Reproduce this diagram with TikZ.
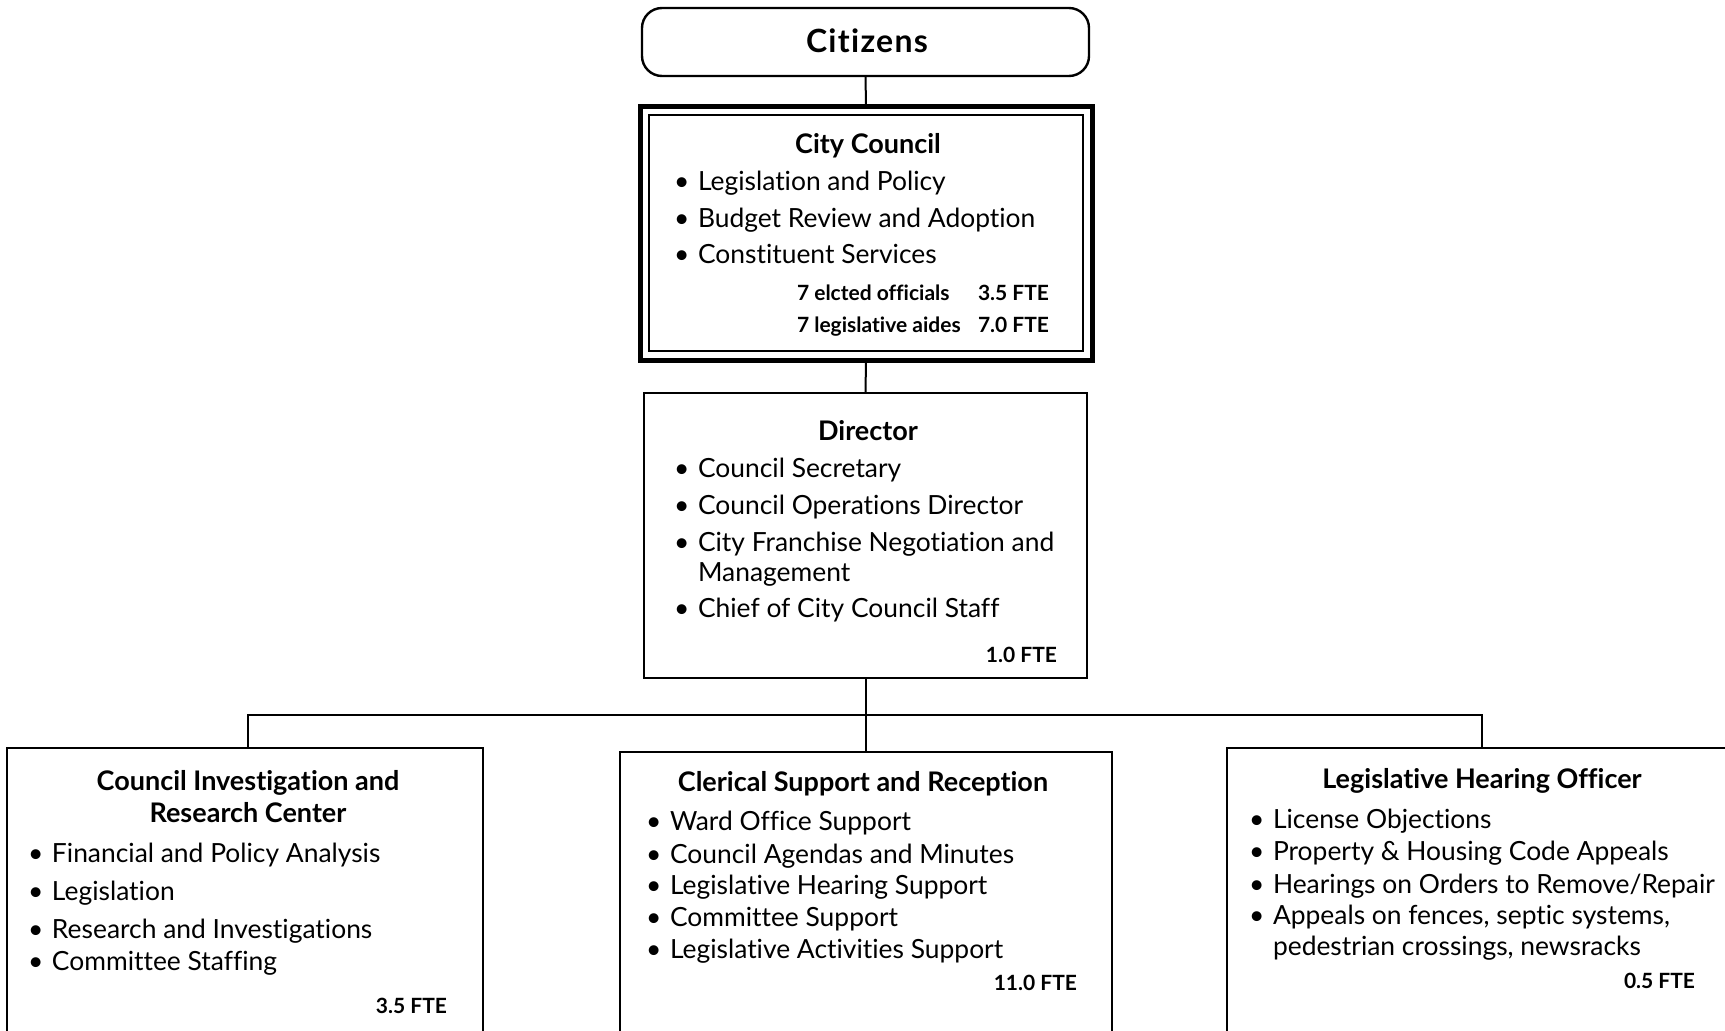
\documentclass[tikz,border=0pt]{standalone}
\usepackage{fontspec}
\setmainfont{Lato}[Ligatures=NoCommon]
% bulleted line: node name, start of the bullet, text
\newcommand\bitem[3]{\node[itemtext] (#1) at (#2) {\makebox[24pt][l]{\textbullet}#3};}
\begin{document}
\begin{tikzpicture}[x=1pt,y=-1pt,
  every node/.style={inner sep=0pt, outer sep=0pt},
  box/.style={draw, line width=2.4pt, rectangle, anchor=north west},
  conn/.style={line width=2pt},
  title/.style={font=\bfseries\fontsize{27}{32}\selectfont, anchor=base},
  itemtext/.style={font=\fontsize{26.4}{31}\selectfont, anchor=base west},
  plain/.style={font=\fontsize{26.4}{31}\selectfont, anchor=base west},
  fte/.style={font=\bfseries\fontsize{21}{25}\selectfont},
]
\useasboundingbox (0,0) rectangle (1725,1031);
\clip (0,0) rectangle (1725,1031);

% ---- boxes ----
\node[box, rounded corners=20pt, minimum width=447pt, minimum height=68pt] (cit) at (642,8) {};
\node[box, line width=5pt, minimum width=452pt, minimum height=254pt] (cc) at (640,106) {};
\node[box, line width=1.5pt, minimum width=434pt, minimum height=236pt] (ccin) at (649,115) {};
\node[box, minimum width=443pt, minimum height=285pt] (dir) at (644,393) {};
\node[box, minimum width=476pt, minimum height=360pt] (cir) at (7,748) {};
\node[box, minimum width=492pt, minimum height=360pt] (csr) at (620,752) {};
\node[box, minimum width=540pt, minimum height=360pt] (lho) at (1227,748) {};

% ---- connectors ----
\coordinate (barL) at (248,715);
\coordinate (barR) at (1482,715);
\draw[conn] (cit.south) -- (cc.north);
\draw[conn] (cc.south) -- (dir.north);
\draw[conn] (dir.south) -- (dir.south |- barL);
\draw[conn] (cir.north -| barL) -- (barL) -- (barR) -- (lho.north -| barR);
\draw[conn] (dir.south |- barL) -- (csr.north -| dir.south);

% ---- Citizens ----
\node[title, font=\bfseries\fontsize{32}{36}\selectfont\addfontfeature{LetterSpace=4}] (citT) at (867,52) {Citizens};

% ---- City Council ----
\node[title] (ccT) at (868,153) {City Council};
\bitem{cc1}{674,190}{Legislation and Policy}
\bitem{cc2}{674,227}{Budget Review and Adoption}
\bitem{cc3}{674,263}{Constituent Services}
\node[fte, anchor=base west] (cc4) at (797,300) {7 elcted officials};
\node[fte, anchor=base west] (cc5) at (978,300) {3.5 FTE};
\node[fte, anchor=base west] (cc6) at (797,332) {7 legislative aides};
\node[fte, anchor=base west] (cc7) at (978,332) {7.0 FTE};

% ---- Director ----
\node[title] (dirT) at (868,440) {Director};
\bitem{d1}{674,477}{Council Secretary}
\bitem{d2}{674,514}{Council Operations Director}
\bitem{d3}{674,551}{City Franchise Negotiation and}
\node[plain] (d3b) at (698,581) {Management};
\bitem{d4}{674,617}{Chief of City Council Staff}
\node[fte, anchor=base east] (dF) at (1057,662) {1.0 FTE};

% ---- Council Investigation and Research Center ----
\node[title] (cirT1) at (248,790) {Council Investigation and};
\node[title] (cirT2) at (248,822) {Research Center};
\bitem{ci1}{28,862}{Financial and Policy Analysis}
\bitem{ci2}{28,900}{Legislation}
\bitem{ci3}{28,938}{Research and Investigations}
\bitem{ci4}{28,970}{Committee Staffing}
\node[fte, anchor=base east] (ciF) at (447,1013) {3.5 FTE};

% ---- Clerical Support and Reception ----
\node[title] (csrT) at (863,791) {Clerical Support and Reception};
\bitem{cs1}{646,830}{Ward Office Support}
\bitem{cs2}{646,863}{Council Agendas and Minutes}
\bitem{cs3}{646,894}{Legislative Hearing Support}
\bitem{cs4}{646,926}{Committee Support}
\bitem{cs5}{646,958}{Legislative Activities Support}
\node[fte, anchor=base east] (csF) at (1077,990) {11.0 FTE};

% ---- Legislative Hearing Officer ----
\node[title] (lhoT) at (1482,788) {Legislative Hearing Officer};
\bitem{lh1}{1249,828}{License Objections}
\bitem{lh2}{1249,860}{Property \& Housing Code Appeals}
\bitem{lh3}{1249,893}{Hearings on Orders to Remove/Repair}
\bitem{lh4}{1249,924}{Appeals on fences, septic systems,}
\node[plain] (lh4b) at (1273,955) {pedestrian crossings, newsracks};
\node[fte, anchor=base east] (lhF) at (1695,988) {0.5 FTE};
\end{tikzpicture}
\end{document}
